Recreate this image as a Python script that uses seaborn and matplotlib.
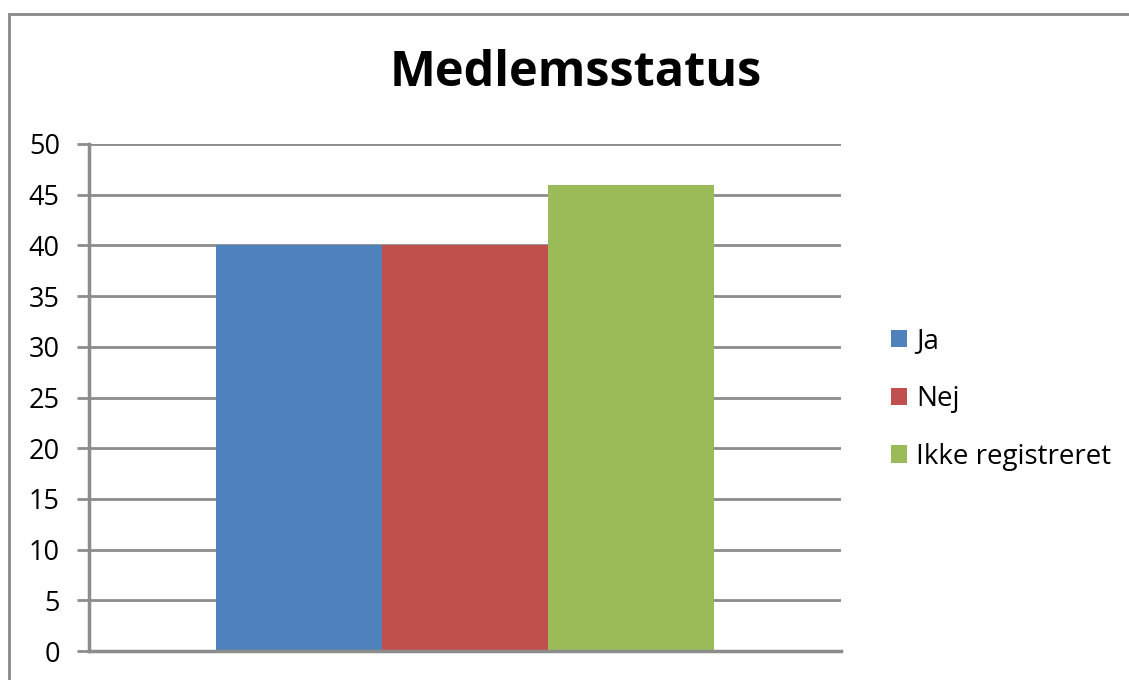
import matplotlib
matplotlib.use("Agg")
import matplotlib.pyplot as plt
import seaborn as sns
import pandas as pd
from matplotlib.patches import Rectangle

categories = ["Ja", "Nej", "Ikke registreret"]
values = [40, 40, 46]
colors = ["#4F81BD", "#C0504D", "#9BBB59"]
yticks = [0, 5, 10, 15, 20, 25, 30, 35, 40, 45, 50]
title = "Medlemsstatus"

sns.set_theme(style="white")
plt.rcParams["font.family"] = ["Open Sans", "DejaVu Sans"]

df = pd.DataFrame({"gruppe": [""] * len(categories), "status": categories, "antal": values})

W, H = 1129, 680
fig = plt.figure(figsize=(W / 100, H / 100), dpi=100)
ax = fig.add_axes([89 / W, 1 - 651 / H, (841 - 89) / W, (651 - 144) / H])

sns.barplot(data=df, x="gruppe", y="antal", hue="status", hue_order=categories,
            palette=colors, saturation=1, width=0.663, ax=ax, legend=True,
            edgecolor="none", linewidth=0)

ax.set_xlim(-0.5, 0.5)
ax.set_ylim(0, 50)
ax.set_yticks(yticks)
ax.set_yticklabels([str(t) for t in yticks], fontsize=19.5, color="black")
ax.set_xticks([])
ax.set_xlabel("")
ax.set_ylabel("")
ax.yaxis.grid(True, color="#8c8c8c", linewidth=2)
ax.set_axisbelow(True)
for s in ["top", "right"]:
    ax.spines[s].set_visible(False)
ax.spines["left"].set_color("#8c8c8c")
ax.spines["left"].set_linewidth(2.5)
ax.spines["bottom"].set_color("#8c8c8c")
ax.spines["bottom"].set_linewidth(2.5)
ax.tick_params(axis="y", which="major", left=True, length=9, width=2, color="#8c8c8c", pad=12)

fig.text(576 / W, 1 - 74 / H, title, ha="center", va="center",
         fontsize=35, fontweight="bold", color="black")

handles, labels = ax.get_legend_handles_labels()
ax.get_legend().remove()
fig.legend(handles, labels, loc="center left", bbox_to_anchor=(866 / W, 1 - 399 / H),
           frameon=False, fontsize=20, handlelength=0.58, handleheight=0.58,
           handletextpad=0.32, labelspacing=1.07, labelcolor="black")

fig.patches.append(Rectangle((9 / W, -0.2), 1.2, 1.2 - 14 / H, transform=fig.transFigure,
                             fill=False, edgecolor="#888888", linewidth=2, zorder=-1))

fig.savefig("out.png", dpi=100)
